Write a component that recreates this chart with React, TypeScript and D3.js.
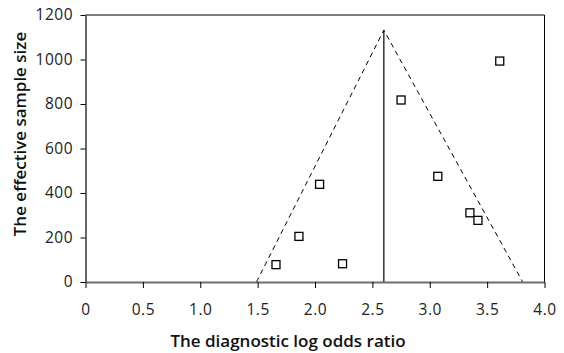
import React, { useEffect, useRef } from 'react';
import * as d3 from 'd3';

// log odds ratio vs effective sample size
const logOdds = [3.61, 2.75, 2.04, 1.86, 1.66, 2.24, 3.07, 3.35, 3.42];
const sampleSize = [993, 818, 439, 205, 78, 82, 475, 311, 277];

const xTicks = [0, 0.5, 1.0, 1.5, 2.0, 2.5, 3.0, 3.5, 4.0];
const yTicks = [0, 200, 400, 600, 800, 1000, 1200];

// funnel: apex and the two feet on the x axis
const pooled = 2.6;
const apexSize = 1132;
const funnelFeet = [1.49, 3.81];

const width = 564;
const height = 353;
const margin = { top: 15, right: 19.5, bottom: 71, left: 85.5 };
const font = '"Open Sans", "Noto Sans", sans-serif';

const App = () => {
  const svgRef = useRef<SVGSVGElement>(null);

  useEffect(() => {
    const svg = d3.select(svgRef.current);
    svg.selectAll('*').remove();

    const innerW = width - margin.left - margin.right;
    const innerH = height - margin.top - margin.bottom;

    const x = d3.scaleLinear().domain([0, 4]).range([0, innerW]);
    const y = d3.scaleLinear().domain([0, 1200]).range([innerH, 0]);

    const g = svg.append('g').attr('transform', `translate(${margin.left},${margin.top})`);

    // frame top / right
    g.append('path')
      .attr('d', `M0,0H${innerW}V${innerH}`)
      .attr('fill', 'none')
      .attr('stroke', '#000')
      .attr('stroke-width', 1);

    // funnel dashed lines
    const line = d3.line<[number, number]>().x(d => x(d[0])).y(d => y(d[1]));
    g.append('path')
      .attr('d', line([[funnelFeet[0], 0], [pooled, apexSize], [funnelFeet[1], 0]]))
      .attr('fill', 'none')
      .attr('stroke', '#000')
      .attr('stroke-width', 1)
      .attr('stroke-dasharray', '5,4');

    // pooled estimate
    g.append('line')
      .attr('x1', x(pooled)).attr('x2', x(pooled))
      .attr('y1', y(0)).attr('y2', y(apexSize))
      .attr('stroke', '#000')
      .attr('stroke-width', 1.2);

    // y axis
    const yAxis = g.append('g').call(d3.axisLeft(y).tickValues(yTicks).tickSize(5).tickSizeOuter(0).tickFormat(d3.format('d')));
    yAxis.select('.domain').attr('stroke', '#000').attr('stroke-width', 1.2);
    yAxis.selectAll('line').attr('stroke', '#000');
    yAxis.selectAll('text')
      .attr('x', -12.5)
      .style('font-family', font)
      .style('font-size', '15.5px')
      .style('letter-spacing', '0.5px')
      .attr('fill', '#222');

    // x axis
    const xAxis = g.append('g')
      .attr('transform', `translate(0,${innerH})`)
      .call(d3.axisBottom(x).tickValues(xTicks).tickSize(6).tickSizeOuter(0)
        .tickFormat(d => (d === 0 ? '0' : d3.format('.1f')(d as number))));
    xAxis.select('.domain').attr('stroke', '#6e6e6e').attr('stroke-width', 2);
    xAxis.selectAll('line').attr('stroke', '#000');
    xAxis.selectAll('text')
      .attr('y', 33)
      .attr('dy', 0)
      .style('font-family', font)
      .style('font-size', '15.5px')
      .style('letter-spacing', '0.5px')
      .attr('fill', '#222');

    // points
    g.selectAll('rect.pt')
      .data(logOdds.map((v, i) => [v, sampleSize[i]]))
      .join('rect')
      .attr('class', 'pt')
      .attr('x', d => x(d[0]) - 4)
      .attr('y', d => y(d[1]) - 4)
      .attr('width', 8)
      .attr('height', 8)
      .attr('fill', '#fff')
      .attr('stroke', '#000')
      .attr('stroke-width', 1.3);

    // axis titles
    svg.append('text')
      .attr('x', 288)
      .attr('y', 347)
      .attr('text-anchor', 'middle')
      .style('font-family', font)
      .style('font-size', '17px')
      .style('font-weight', 600)
      .attr('fill', '#111')
      .text('The diagnostic log odds ratio');

    svg.append('text')
      .attr('transform', `translate(26,134) rotate(-90)`)
      .attr('text-anchor', 'middle')
      .style('font-family', font)
      .style('font-size', '17px')
      .style('font-weight', 600)
      .attr('fill', '#111')
      .text('The effective sample size');
  }, []);

  return (
    <svg
      ref={svgRef}
      width={width}
      height={height}
      style={{ position: 'absolute', left: 0, top: 0, background: '#fff' }}
    />
  );
};

export default App;
